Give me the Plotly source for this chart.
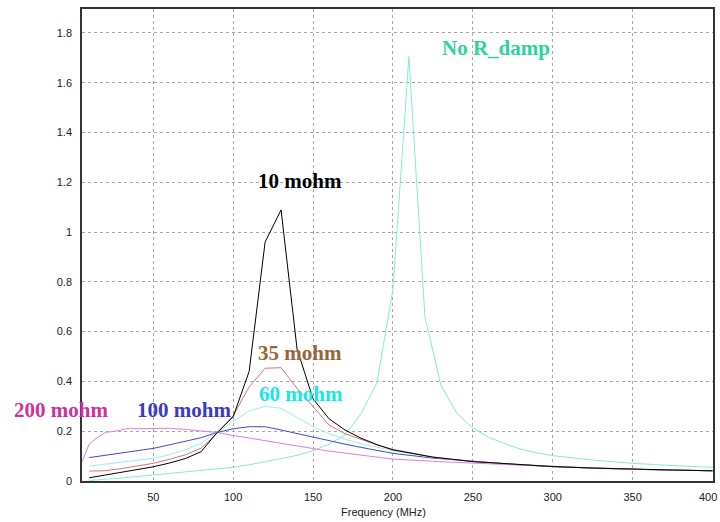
import plotly.graph_objects as go

# ---------------- data ----------------
freq = [10, 20, 30, 40, 50, 60, 70, 80, 90, 100, 110, 120, 130, 140, 150, 160, 170, 180, 190, 200,
        225, 250, 275, 300, 325, 350, 375, 400]

r10 = [0.013, 0.024, 0.035, 0.046, 0.057, 0.072, 0.090, 0.118, 0.195, 0.258, 0.440, 0.960, 1.089, 0.530,
       0.330, 0.250, 0.205, 0.172, 0.146, 0.125, 0.096, 0.078, 0.067, 0.058, 0.052, 0.047, 0.044, 0.041]
r35 = [0.040, 0.041, 0.050, 0.060, 0.071, 0.087, 0.105, 0.132, 0.192, 0.262, 0.378, 0.453, 0.455, 0.372,
       0.298, 0.225, 0.190, 0.166, 0.145, 0.127, 0.096, 0.078, 0.067, 0.058, 0.052, 0.047, 0.044, 0.041]
r60 = [0.060, 0.068, 0.075, 0.083, 0.091, 0.105, 0.125, 0.152, 0.195, 0.238, 0.282, 0.300, 0.292, 0.255,
       0.218, 0.190, 0.168, 0.150, 0.135, 0.122, 0.095, 0.078, 0.067, 0.058, 0.052, 0.047, 0.044, 0.041]
r100 = [0.094, 0.104, 0.113, 0.122, 0.131, 0.145, 0.158, 0.174, 0.195, 0.210, 0.218, 0.218, 0.205, 0.190,
        0.175, 0.160, 0.148, 0.135, 0.122, 0.111, 0.092, 0.078, 0.067, 0.058, 0.052, 0.047, 0.044, 0.041]

freq_200 = [5.5, 8, 10, 14, 20, 26, 30, 35, 40, 50, 60, 70, 80, 90, 100, 110, 120, 130, 140, 150, 160,
            170, 180, 190, 200, 225, 250, 275, 300, 325, 350, 375, 400]
r200 = [0.078, 0.120, 0.150, 0.170, 0.195, 0.200, 0.205, 0.212, 0.210, 0.210, 0.212, 0.207, 0.200, 0.195,
        0.183, 0.172, 0.162, 0.152, 0.140, 0.130, 0.120, 0.112, 0.103, 0.095, 0.088, 0.079, 0.072, 0.064,
        0.057, 0.051, 0.047, 0.044, 0.041]

freq_nr = [10, 20, 30, 40, 50, 60, 70, 80, 90, 100, 110, 120, 130, 140, 150, 160, 170, 180, 190, 200,
           210, 220, 230, 240, 250, 260, 270, 280, 290, 300, 325, 350, 375, 400]
no_rdamp = [0.002, 0.006, 0.012, 0.018, 0.024, 0.030, 0.036, 0.042, 0.049, 0.055, 0.065, 0.078, 0.090,
            0.103, 0.122, 0.148, 0.185, 0.270, 0.395, 0.770, 1.705, 0.660, 0.385, 0.272, 0.212, 0.175,
            0.150, 0.128, 0.113, 0.102, 0.084, 0.071, 0.062, 0.055]

x_ticks = [50, 100, 150, 200, 250, 300, 350, 400]
y_ticks = [0, 0.2, 0.4, 0.6, 0.8, 1, 1.2, 1.4, 1.6, 1.8]
y_tick_text = ["0", "0.2", "0.4", "0.6", "0.8", "1", "1.2", "1.4", "1.6", "1.8"]

# ---------------- figure ----------------
fig = go.Figure()

series = [
    ("No R_damp", freq_nr, no_rdamp, "#86EBD6"),
    ("200 mohm", freq_200, r200, "#DD80DD"),
    ("100 mohm", freq, r100, "#4646D2"),
    ("60 mohm", freq, r60, "#9EEFEF"),
    ("35 mohm", freq, r35, "#D87474"),
    ("10 mohm", freq, r10, "#000000"),
]
for name, xs, ys, col in series:
    fig.add_trace(go.Scatter(x=xs, y=ys, mode="lines", name=name,
                             line=dict(color=col, width=1), showlegend=False))

L, R, T, B = 82, 7, 9, 41
W, H = 720, 522
pw, ph = W - L - R, H - T - B
X_MIN, X_MAX = 5.4, 400.3


def px(xp):
    return (xp - L) / pw


def py(yp):
    return (H - B - yp) / ph


label_font = "Liberation Serif, Times New Roman, serif"
labels = [
    ("10 mohm", 300, 181, "#000000"),
    ("35 mohm", 300, 353, "#9A6535"),
    ("60 mohm", 301, 394, "#14E8E8"),
    ("100 mohm", 184, 410, "#3A3ACC"),
    ("200 mohm", 61, 410, "#CC3399"),
    ("No R_damp", 496, 48, "#2ED3A0"),
]
for text, xp, yp, col in labels:
    fig.add_annotation(x=px(xp), y=py(yp), xref="paper", yref="paper", text="<b>%s</b>" % text,
                       showarrow=False, xanchor="center", yanchor="middle",
                       font=dict(family=label_font, size=21, color=col))

tick_font = dict(family="Liberation Sans, Arial, sans-serif", size=11, color="#222222")

# last tick label sits at the right border; keep it fully inside the figure
last_tick = x_ticks[-1]
fig.add_annotation(x=px(719), y=py(497), xref="paper", yref="paper", text=str(last_tick),
                   showarrow=False, xanchor="right", yanchor="middle", font=tick_font)

fig.add_annotation(x=px(383), y=py(512), xref="paper", yref="paper", text="Frequency (MHz)",
                   showarrow=False, xanchor="center", yanchor="middle", font=tick_font)

fig.update_layout(
    width=W, height=H,
    margin=dict(l=L, r=R, t=T, b=B, pad=0, autoexpand=False),
    paper_bgcolor="white", plot_bgcolor="white",
    font=tick_font,
)
fig.update_xaxes(range=[X_MIN, X_MAX], tickvals=x_ticks[:-1], ticks="", ticklabelstandoff=5, automargin=False,
                 showgrid=True, gridcolor="#A8A8A8", griddash="3px,3px", gridwidth=1,
                 showline=True, linecolor="#333333", linewidth=1.5, mirror=True, zeroline=False)
fig.update_yaxes(range=[0, 1.896], tickvals=y_ticks, ticktext=y_tick_text, ticks="", ticklabelstandoff=6,
                 automargin=False,
                 showgrid=True, gridcolor="#A8A8A8", griddash="3px,3px", gridwidth=1,
                 showline=True, linecolor="#333333", linewidth=1.5, mirror=True, zeroline=False)

fig.write_html("out.html", config={"displayModeBar": False},
               post_script="document.body.style.margin='0';document.body.style.overflow='hidden';")
